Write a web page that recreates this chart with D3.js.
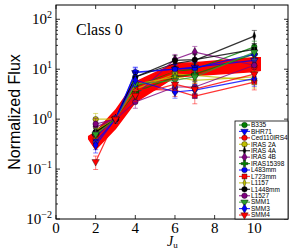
<!DOCTYPE html>
<html>
<head>
<meta charset="utf-8">
<script src="https://d3js.org/d3.v7.min.js"></script>
<style>
  body { margin: 0; background: #fff; }
  svg { display: block; }
</style>
</head>
<body>
<svg width="293" height="250"></svg>
<script>
// upper level J of each CO line
const jUp = [2, 3, 4, 6, 7, 10];
// relative error at each J
const errRel = [0.3, 0.15, 0.25, 0.25, 0.3, 0.3];

const sources = ["B335", "BHR71", "Ced110IRS4", "IRAS 2A", "IRAS 4A", "IRAS 4B", "IRAS15398",
  "L483mm", "L723mm", "L1157", "L1448mm", "L1527", "SMM1", "SMM3", "SMM4"];
const colors = ["#008000", "#0000ff", "#ff0000", "#bfbf00", "#000000", "#800080", "#008000",
  "#0000ff", "#ff0000", "#bfbf00", "#000000", "#800080", "#2e9e2e", "#0000ff", "#ff0000"];
const markers = ["circle", "tridown", "circle", "circle", "thin", "diamond", "plus",
  "circle", "square", "thin", "circle", "circle", "tridown", "diamond", "tridown"];

const fluxB335 = [0.55, 1, 4.5, 9, 10, 28];
const fluxBHR71 = [0.45, 1, 8.5, 10, 11, 15];
const fluxCed110 = [0.4, 1, 4, 9, 9, 11];
const fluxIRAS2A = [1.0, 1, 4, 8, 7.5, 6];
const fluxIRAS4A = [0.6, 1, 7, 13, 15, 46];
const fluxIRAS4B = [0.7, 1, 3, 15.8, 22, 12];
const fluxIRAS15398 = [0.5, 1, 3.5, 7, 8, 20];
const fluxL483 = [0.35, 1, 8.8, 10, 10.5, 20];
const fluxL723 = [0.5, 1, 4, 3.8, 2.9, 5.5];
const fluxL1157 = [0.6, 1, 5, 7, 6, 7];
const fluxL1448 = [0.55, 1, 7, 15, 15.5, 25];
const fluxL1527 = [0.8, 1, 2.2, 4.4, 4.4, 12];
const fluxSMM1 = [0.5, 1, 5, 6, 7, 22];
const fluxSMM3 = [0.3, 1, 6, 3.5, 3.8, 6.5];
const fluxSMM4 = [0.14, 1, 3, 5, 4, 8];
const fluxes = [fluxB335, fluxBHR71, fluxCed110, fluxIRAS2A, fluxIRAS4A, fluxIRAS4B, fluxIRAS15398,
  fluxL483, fluxL723, fluxL1157, fluxL1448, fluxL1527, fluxSMM1, fluxSMM3, fluxSMM4];

// thick red model band
const bandJ = [1.65, 2, 3, 4, 6, 7, 10, 10.3];
const bandLow = [0.4, 0.25, 0.65, 2.2, 7, 7.5, 9, 9.5];
const bandHigh = [0.45, 0.55, 1.5, 5.5, 13, 13.5, 17, 17];

const xTicks = [0, 2, 4, 6, 8, 10];
const yExps = [-2, -1, 0, 1, 2];

const svg = d3.select('svg');
const pL = 56, pR = 288, pT = 5, pB = 219;

const x = d3.scaleLinear().domain([0, 11.7]).range([pL, pR]);
const y = d3.scaleLog().domain([1e-2, Math.pow(10, 2.286)]).range([pB, pT]);

const serif = "'Liberation Serif', 'DejaVu Serif', serif";
const sans = "'Liberation Sans', Arial, sans-serif";

svg.append('defs').append('clipPath').attr('id', 'clip')
  .append('rect').attr('x', pL).attr('y', pT)
  .attr('width', pR - pL).attr('height', pB - pT);

const plot = svg.append('g').attr('clip-path', 'url(#clip)');

// model band
const bandData = bandJ.map((j, i) => ({ j, lo: bandLow[i], hi: bandHigh[i] }));
plot.append('path')
  .datum(bandData)
  .attr('d', d3.area().x(d => x(d.j)).y0(d => y(d.lo)).y1(d => y(d.hi)))
  .attr('fill', '#ff0000')
  .attr('stroke', '#ff0000')
  .attr('stroke-width', 1.5);

function markerPath(type) {
  const s = {
    circle: d3.symbol(d3.symbolCircle, 24),
    tridown: d3.symbol(d3.symbolTriangle, 24),
    square: d3.symbol(d3.symbolSquare, 24),
    diamond: d3.symbol(d3.symbolDiamond, 24),
    thin: d3.symbol(d3.symbolDiamond, 16),
    plus: d3.symbol(d3.symbolCross, 24)
  }[type];
  return s();
}

function markerTf(type) {
  return (type === 'tridown' ? ' rotate(180)' : '') +
    (type === 'thin' ? ' scale(0.7,1.2)' : '');
}

const line = d3.line().x(d => x(d.j)).y(d => y(d.v));

sources.forEach((name, k) => {
  const pts = jUp.map((j, i) => ({ j, v: fluxes[k][i], e: errRel[i] }));
  const g = plot.append('g');
  g.append('path').datum(pts)
    .attr('d', line)
    .attr('fill', 'none')
    .attr('stroke', colors[k])
    .attr('stroke-opacity', 0.8)
    .attr('stroke-width', 1.2);
  const eb = g.selectAll('.eb').data(pts).join('g')
    .attr('stroke', colors[k]).attr('stroke-opacity', 0.5).attr('stroke-width', 1);
  eb.append('line')
    .attr('x1', d => x(d.j)).attr('x2', d => x(d.j))
    .attr('y1', d => y(d.v * (1 - d.e))).attr('y2', d => y(d.v * (1 + d.e)));
  eb.append('line')
    .attr('x1', d => x(d.j) - 2.5).attr('x2', d => x(d.j) + 2.5)
    .attr('y1', d => y(d.v * (1 - d.e))).attr('y2', d => y(d.v * (1 - d.e)));
  eb.append('line')
    .attr('x1', d => x(d.j) - 2.5).attr('x2', d => x(d.j) + 2.5)
    .attr('y1', d => y(d.v * (1 + d.e))).attr('y2', d => y(d.v * (1 + d.e)));
  g.selectAll('.mk').data(pts).join('path')
    .attr('d', markerPath(markers[k]))
    .attr('transform', d => `translate(${x(d.j)},${y(d.v)})` + markerTf(markers[k]))
    .attr('fill', colors[k])
    .attr('stroke', '#000')
    .attr('stroke-width', 0.4);
});

// frame
svg.append('rect')
  .attr('x', pL).attr('y', pT)
  .attr('width', pR - pL).attr('height', pB - pT)
  .attr('fill', 'none').attr('stroke', '#000').attr('stroke-width', 1);

// x ticks (inward, bottom and top)
const axG = svg.append('g').attr('stroke', '#000').attr('stroke-width', 0.8);
xTicks.forEach(t => {
  axG.append('line').attr('x1', x(t)).attr('x2', x(t)).attr('y1', pB).attr('y2', pB - 4);
  axG.append('line').attr('x1', x(t)).attr('x2', x(t)).attr('y1', pT).attr('y2', pT + 4);
});
svg.selectAll('.xl').data(xTicks).join('text')
  .attr('x', d => x(d)).attr('y', 233)
  .attr('text-anchor', 'middle')
  .attr('font-family', serif).attr('font-size', 15)
  .text(d => d);

// y ticks, major and minor
yExps.forEach(e => {
  const v = Math.pow(10, e);
  axG.append('line').attr('x1', pL).attr('x2', pL + 4).attr('y1', y(v)).attr('y2', y(v));
  axG.append('line').attr('x1', pR).attr('x2', pR - 4).attr('y1', y(v)).attr('y2', y(v));
  for (let m = 2; m <= 9; m++) {
    const mv = m * v;
    if (mv > y.domain()[1]) break;
    axG.append('line').attr('x1', pL).attr('x2', pL + 2).attr('y1', y(mv)).attr('y2', y(mv));
    axG.append('line').attr('x1', pR).attr('x2', pR - 2).attr('y1', y(mv)).attr('y2', y(mv));
  }
  const t = svg.append('text')
    .attr('x', 52).attr('y', y(v) + 5)
    .attr('text-anchor', 'end')
    .attr('font-family', serif).attr('font-size', 15);
  t.append('tspan').text('10');
  t.append('tspan').attr('dy', -6).attr('font-size', 10)
    .text(e < 0 ? '\u2212' + Math.abs(e) : e);
});

// axis labels
svg.append('text')
  .attr('transform', `translate(20,112) rotate(-90)`)
  .attr('text-anchor', 'middle')
  .attr('font-family', sans).attr('font-size', 16)
  .text('Normalized Flux');

const xl = svg.append('text')
  .attr('x', 167).attr('y', 246)
  .attr('font-family', serif).attr('font-size', 14);
xl.append('tspan').attr('font-style', 'italic').text('J');
xl.append('tspan').attr('dy', 2).attr('font-size', 9).text('u');

svg.append('text')
  .attr('x', 76).attr('y', 35)
  .attr('font-family', serif).attr('font-size', 16)
  .text('Class 0');

// legend
const legX = 235, legY = 121, rowH = 6.43;
svg.append('rect')
  .attr('x', legX).attr('y', legY)
  .attr('width', pR - legX).attr('height', pB - legY)
  .attr('fill', '#fff').attr('stroke', '#000').attr('stroke-width', 0.8);
sources.forEach((name, k) => {
  const yy = legY + 4 + k * rowH;
  svg.append('line')
    .attr('x1', legX + 4).attr('x2', legX + 15)
    .attr('y1', yy).attr('y2', yy)
    .attr('stroke', colors[k]).attr('stroke-opacity', 0.8).attr('stroke-width', 1.2);
  svg.append('path')
    .attr('d', markerPath(markers[k]))
    .attr('transform', `translate(${legX + 9.5},${yy})` + markerTf(markers[k]))
    .attr('fill', colors[k]).attr('stroke', '#000').attr('stroke-width', 0.4);
  svg.append('text')
    .attr('x', legX + 16).attr('y', yy + 2.3)
    .attr('font-family', sans).attr('font-size', 6.5)
    .text(name);
});
</script>
</body>
</html>
